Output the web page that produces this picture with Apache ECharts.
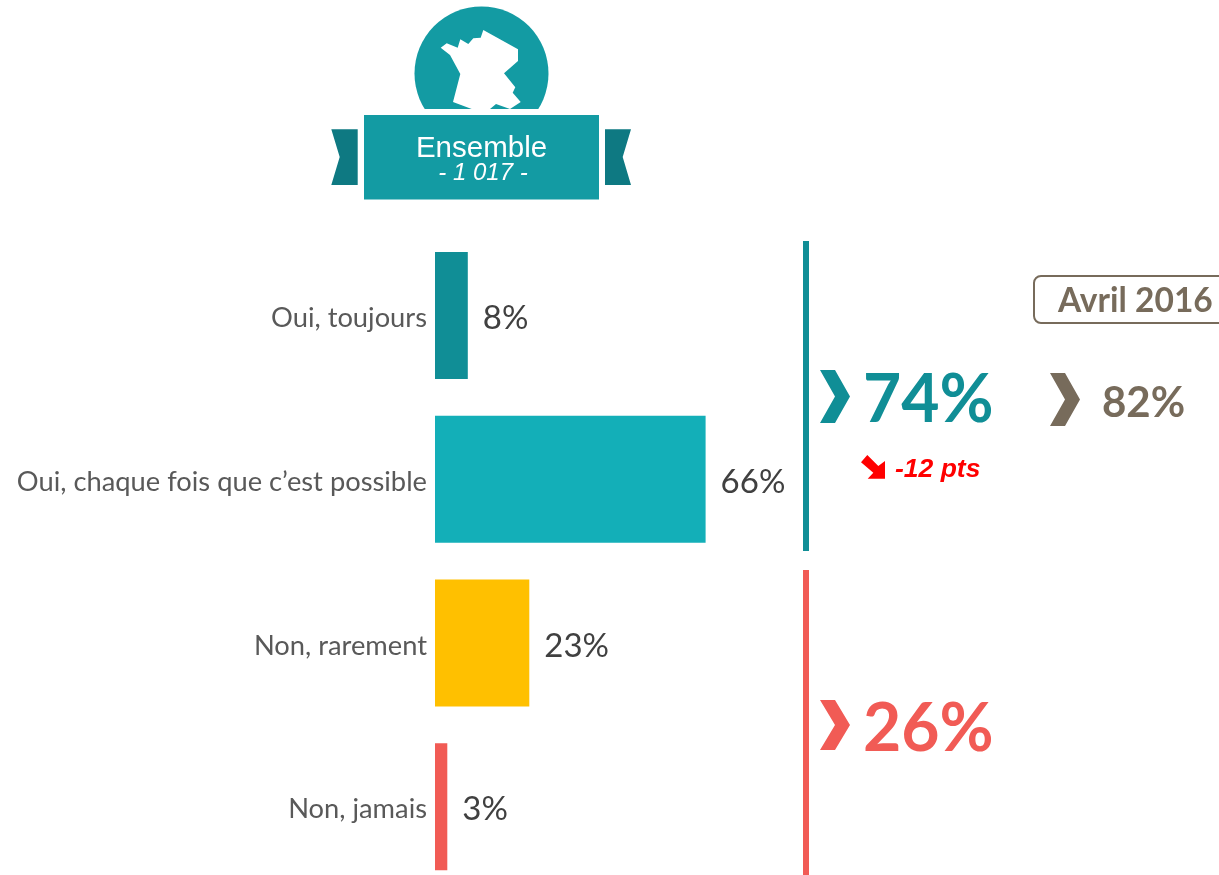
<!DOCTYPE html>
<html>
<head>
<meta charset="utf-8">
<title>Ensemble</title>
<script src="https://cdn.jsdelivr.net/npm/echarts@6/dist/echarts.min.js"></script>
<style>
  html, body { margin: 0; padding: 0; background: #fff; }
  #main { width: 1219px; height: 875px; }
</style>
</head>
<body>
<div id="main"></div>
<script>
  var categories = ['Oui, toujours', 'Oui, chaque fois que c’est possible', 'Non, rarement', 'Non, jamais'];
  var values = [8, 66, 23, 3];
  var barColors = ['#108E96', '#13AFB8', '#FFC000', '#F15B55'];

  var bannerTitle = 'Ensemble';
  var bannerBase = '- 1 017 -';
  var yesTotal = '74%';
  var noTotal = '26%';
  var previousLabel = 'Avril 2016';
  var previousTotal = '82%';
  var evolution = '-12 pts';

  var TEAL = '#139BA3', DARK_TEAL = '#0E7982', RED = '#F15B55', BROWN = '#776B5B';
  var FONT = 'Lato, "Open Sans", sans-serif';
  var ARIAL = '"Liberation Sans", Arial, sans-serif';

  function poly(points, fill) {
    return { type: 'polygon', shape: { points: points }, style: { fill: fill } };
  }
  function rect(x, y, w, h, fill) {
    return { type: 'rect', shape: { x: x, y: y, width: w, height: h }, style: { fill: fill } };
  }
  function label(text, x, y, font, fill, align) {
    return {
      type: 'text', x: x, y: y,
      style: { text: text, font: font, fill: fill, align: align || 'left', verticalAlign: 'middle' }
    };
  }
  // chevron : x, y en haut a gauche
  function chevron(x, y, w, h, fill) {
    var d = w * 0.5;
    return poly([[x, y], [x + d, y], [x + w, y + h / 2], [x + d, y + h], [x, y + h], [x + d, y + h / 2]], fill);
  }

  var myChart = echarts.init(document.getElementById('main'));

  var option = {
    animation: false,
    // la derniere bande depasse du bas de la page
    grid: { left: 435, top: 233.5, width: 410, height: 655, outerBoundsMode: 'none' },
    xAxis: { type: 'value', min: 0, max: 100, show: false },
    yAxis: {
      type: 'category',
      inverse: true,
      data: categories,
      axisLine: { show: false },
      axisTick: { show: false },
      // top + petit lineHeight : descend le texte de 3px sous le centre de la bande
      axisLabel: { margin: 8, color: '#595959', fontFamily: FONT, fontSize: 27.3, verticalAlign: 'top', lineHeight: 6 }
    },
    series: [{
      type: 'bar',
      barWidth: 127,
      data: values.map(function (v, i) {
        return { value: v, itemStyle: { color: barColors[i] } };
      }),
      label: {
        show: true,
        position: 'right',
        distance: 15,
        offset: [0, 3],
        formatter: '{c}%',
        color: '#404040',
        fontFamily: FONT,
        fontSize: 33
      }
    }],
    graphic: [
      // pictogramme France
      { type: 'circle', shape: { cx: 481.5, cy: 73.5, r: 67 }, style: { fill: TEAL } },
      poly([[440.7, 47.7], [446.7, 43.3], [457.7, 47.7], [460.3, 39.3], [468.3, 44], [473.3, 38.3], [480.7, 37.7],
        [483.3, 30], [518, 49.3], [518, 61], [504, 73.3], [515.3, 87.3], [512.7, 92.7], [520.7, 102], [510, 109],
        [496, 104], [490, 109], [471.7, 109], [453, 102], [460.3, 74], [450, 55]], '#fff'),
      rect(400, 109, 165, 6, '#fff'),
      // bandeau
      poly([[331.3, 129.3], [357.7, 129.3], [357.7, 185], [331.3, 185], [339.7, 157]], DARK_TEAL),
      poly([[605, 129.3], [631, 129.3], [622.7, 157], [631, 185], [605, 185]], DARK_TEAL),
      rect(364, 115, 235, 84.5, TEAL),
      label(bannerTitle, 481.5, 149, '29.5px ' + ARIAL, '#fff', 'center'),
      label(bannerBase, 483, 173, 'italic 24px ' + ARIAL, '#fff', 'center'),
      // accolades
      rect(803, 241, 6, 310, '#108E96'),
      rect(803, 570, 6, 305, RED),
      // totaux
      chevron(820, 370, 30, 53, '#108E96'),
      label(yesTotal, 863, 401, 'bold 66px ' + FONT, '#108E96'),
      chevron(820, 700, 30, 50, RED),
      label(noTotal, 863, 730, 'bold 66px ' + FONT, RED),
      poly([[861, 462.3], [867.3, 455], [878.3, 466], [885, 461], [885, 478.7], [867.7, 478.7], [873.3, 472.7]], '#FF0000'),
      label(evolution, 895, 470, 'italic bold 26.5px ' + ARIAL, '#FF0000'),
      // rappel avril 2016
      {
        type: 'rect',
        shape: { x: 1034, y: 276, width: 200, height: 47, r: 7 },
        style: { fill: '#fff', stroke: BROWN, lineWidth: 2 }
      },
      label(previousLabel, 1058, 301, 'bold 33.5px ' + FONT, BROWN),
      chevron(1050, 373, 30, 53, BROWN),
      label(previousTotal, 1102, 403, 'bold 42px ' + FONT, BROWN)
    ]
  };

  myChart.setOption(option);
  window.addEventListener('resize', function () { myChart.resize(); });
</script>
</body>
</html>
